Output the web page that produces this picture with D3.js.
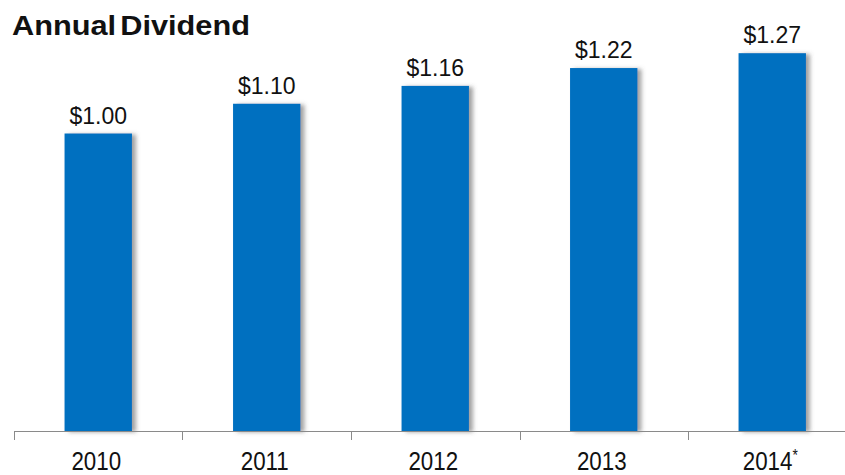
<!DOCTYPE html>
<html>
<head>
<meta charset="utf-8">
<script src="https://cdn.jsdelivr.net/npm/d3@7"></script>
<style>
  html, body { margin: 0; padding: 0; background: #fff; }
  svg { display: block; }
</style>
</head>
<body>
<svg id="chart" width="845" height="475"></svg>
<script>
// Annual dividend per share
const years = ["2010", "2011", "2012", "2013", "2014"];
const yearNotes = ["", "", "", "", "*"];
const dividends = [1.00, 1.10, 1.16, 1.22, 1.27];
const valueLabels = ["$1.00", "$1.10", "$1.16", "$1.22", "$1.27"];
const title = "Annual Dividend";

const W = 845, H = 475;
const baseY = 431;
const svg = d3.select("#chart");
const font = "Arial, 'Liberation Sans', Helvetica, sans-serif";

const defs = svg.append("defs");
const f = defs.append("filter").attr("id", "barShadow")
  .attr("x", "-20%").attr("y", "-5%").attr("width", "150%").attr("height", "110%");
f.append("feDropShadow")
  .attr("dx", 4).attr("dy", 1).attr("stdDeviation", 2)
  .attr("flood-color", "#555").attr("flood-opacity", 0.55);

const x = d3.scaleBand()
  .domain(years)
  .range([14, 14 + 168.5 * years.length])
  .paddingInner(0.6)
  .paddingOuter(0.3);

const y = d3.scaleLinear()
  .domain([0, 1.4])
  .range([baseY, baseY - 1.4 * 297.5]);

// title
svg.append("text")
  .attr("x", 12).attr("y", 35)
  .attr("font-family", font)
  .attr("font-weight", "bold")
  .attr("font-size", 28)
  .attr("fill", "#111")
  .attr("word-spacing", -4)
  .attr("textLength", 238)
  .attr("lengthAdjust", "spacingAndGlyphs")
  .text(title);

// bars
svg.append("g").selectAll("rect")
  .data(years)
  .join("rect")
  .attr("x", d => x(d))
  .attr("width", x.bandwidth())
  .attr("y", (d, i) => y(dividends[i]))
  .attr("height", (d, i) => y(0) - y(dividends[i]))
  .attr("fill", "#0070C0")
  .attr("filter", "url(#barShadow)");

// value labels
svg.append("g").selectAll("text")
  .data(years)
  .join("text")
  .attr("x", d => x(d) + x.bandwidth() / 2)
  .attr("y", (d, i) => y(dividends[i]) - 10)
  .attr("text-anchor", "middle")
  .attr("font-family", font)
  .attr("font-size", 23)
  .attr("fill", "#111")
  .text((d, i) => valueLabels[i]);

// category axis: baseline with ticks at band boundaries
const step = x.step();
const bounds = years.map(d => x(d) - x.paddingInner() * step / 2);
const axis = svg.append("g").attr("stroke", "#8a8a8a").attr("stroke-width", 1);
axis.append("line")
  .attr("x1", bounds[0]).attr("x2", W)
  .attr("y1", baseY + 0.5).attr("y2", baseY + 0.5);
axis.selectAll("line.tick")
  .data(bounds)
  .join("line")
  .attr("class", "tick")
  .attr("x1", d => Math.round(d) + 0.5).attr("x2", d => Math.round(d) + 0.5)
  .attr("y1", baseY).attr("y2", baseY + 9);

// year labels (slightly condensed)
const yl = svg.append("g").selectAll("text")
  .data(years)
  .join("text")
  .attr("transform", d => `translate(${x(d) + x.bandwidth() / 2 - 2},470) scale(0.86,1)`)
  .attr("text-anchor", "middle")
  .attr("font-family", font)
  .attr("font-size", 26)
  .attr("fill", "#111");
yl.append("tspan").text(d => d);
yl.append("tspan")
  .attr("font-size", 16)
  .attr("dy", -9)
  .text((d, i) => yearNotes[i]);
</script>
</body>
</html>
